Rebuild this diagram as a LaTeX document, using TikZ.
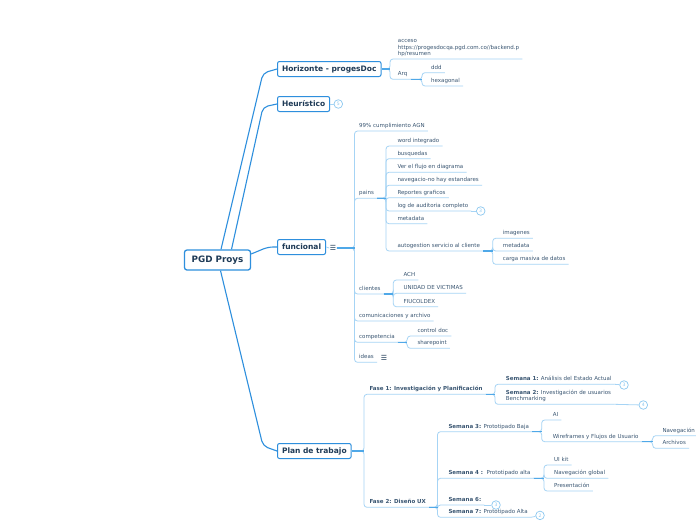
\documentclass[tikz,border=0pt]{standalone}
\usepackage{fontspec}
\setmainfont{DejaVu Sans}
\usetikzlibrary{calc}
\definecolor{mainblue}{HTML}{2E8FDD}
\definecolor{navy}{HTML}{1E3A56}
\definecolor{leaftxt}{HTML}{3A5672}
\definecolor{lineblue}{HTML}{A6D4F5}
\definecolor{stubblue}{HTML}{4FA8E8}
\definecolor{badgeblue}{HTML}{8CC8F0}
\tikzset{
 rootbox/.style={draw=mainblue, line width=1.3pt, rounded corners=2.5pt, fill=white, text=navy, font=\fontsize{8.8}{10}\selectfont\bfseries, minimum width=66pt, minimum height=20pt, inner sep=0pt},
 topbox/.style={draw=mainblue, line width=1pt, rounded corners=2pt, fill=white, text=navy, font=\fontsize{7.5}{8.5}\selectfont\bfseries, minimum height=15pt, inner xsep=4.5pt, anchor=west},
 leaf/.style={anchor=south west, inner xsep=3pt, inner ysep=2pt, text height=3.9pt, text depth=1.2pt, text=leaftxt, font=\fontsize{5.5}{6.6}\selectfont, align=left},
 mainline/.style={draw=mainblue, line width=1.1pt, rounded corners=5pt},
 uline/.style={draw=lineblue, line width=0.8pt, rounded corners=3pt},
 stub/.style={draw=stubblue, line width=1.1pt},
 badge/.style={circle, draw=badgeblue, line width=0.7pt, fill=white, minimum size=8.6pt, inner sep=0pt, text=badgeblue, font=\fontsize{4.6}{4.6}\selectfont},
 menu/.style={text=navy, font=\fontsize{7}{7}\selectfont, inner sep=0.5pt},
}
\newcommand\mmlink[3]{\draw[uline] (#1) -| (#2 |- #3.south west) -- (#3.south east);}
\newcommand\mmstub[2]{\draw[stub] (#1) -- (#1 -| #2);}
\begin{document}
\begin{tikzpicture}[x=1pt,y=-1pt]
\fill[white] (0,0) rectangle (696,520);
\useasboundingbox (0,0) rectangle (696,520);
% bracket x positions
\coordinate (bH) at (390,0);
\coordinate (bA) at (422,0);
\coordinate (bF) at (354.5,0);
\coordinate (bPa) at (386,0);
\coordinate (bAu) at (492.7,0);
\coordinate (bC) at (393.3,0);
\coordinate (bCo) at (407.3,0);
\coordinate (bPl) at (364,0);
\coordinate (bF1) at (495,0);
\coordinate (bF2) at (437.5,0);
\coordinate (bS3) at (541.7,0);
\coordinate (bW) at (652.7,0);
\coordinate (bS4) at (544,0);
% main nodes
\node[rootbox] (root) at (217.5,260) {PGD Proys};
\node[topbox] (hor) at (277,69) {Horizonte - progesDoc};
\node[topbox] (heu) at (277,104) {Heurístico};
\node[topbox] (fun) at (277,247) {funcional};
\node[topbox] (plan) at (277,451) {Plan de trabajo};
\node[badge] (heu5) at (338.3,104) {5};
\node[menu] (fmenu) at (333,248) {☰};
% Horizonte
\node[leaf] (acc) at (394.7,59) {acceso\\https://progesdocqa.pgd.com.co//backend.p\\hp/resumen};
\node[leaf] (arq) at (394.7,79.3) {Arq};
\node[leaf] (ddd) at (428,72.7) {ddd};
\node[leaf] (hex) at (428,86) {hexagonal};
% funcional
\node[leaf] (agn) at (356,131) {99\% cumplimiento AGN};
\node[leaf] (pains) at (356,198.3) {pains};
\node[leaf] (cli) at (356,294) {clientes};
\node[leaf] (com) at (356,321) {comunicaciones y archivo};
\node[leaf] (comp) at (356,342.3) {competencia};
\node[leaf] (ideas) at (356,362.3) {ideas};
\node[menu] (imenu) at (384,358) {☰};
\node[leaf] (word) at (394.3,146) {word integrado};
\node[leaf] (busq) at (394.3,158.7) {busquedas};
\node[leaf] (flujo) at (394.3,172.3) {Ver el flujo en diagrama};
\node[leaf] (nav) at (394.3,185.3) {navegacio-no hay estandares};
\node[leaf] (rep) at (394.3,197.7) {Reportes graficos};
\node[leaf] (log) at (394.3,211) {log de auditoria completo};
\node[badge] (log3) at (480.7,211) {3};
\node[leaf] (meta) at (394.3,223.7) {metadata};
\node[leaf] (auto) at (394.3,251) {autogestion servicio al cliente};
\node[leaf] (img) at (499.7,238.3) {imagenes};
\node[leaf] (meta2) at (499.7,251) {metadata};
\node[leaf] (carga) at (499.7,264.3) {carga masiva de datos};
\node[leaf] (ach) at (400.3,280) {ACH};
\node[leaf] (uv) at (400.3,293.3) {UNIDAD DE VICTIMAS};
\node[leaf] (fiu) at (400.3,306.7) {FIUCOLDEX};
\node[leaf] (ctrl) at (414.3,336) {control doc};
\node[leaf] (sp) at (414.3,348.3) {sharepoint};
% Plan de trabajo
\node[leaf] (f1) at (366.3,394.3) {\textbf{Fase 1: Investigación y Planificación}};
\node[leaf] (f2) at (366.3,507.3) {\textbf{Fase 2: Diseño UX}};
\node[leaf] (s1) at (502.7,384.3) {\textbf{Semana 1:} Análisis del Estado Actual};
\node[badge] (s1b) at (624,385) {3};
\node[leaf] (s2) at (502.7,404.3) {\textbf{Semana 2:} Investigación de usuarios\\Benchmarking};
\node[badge] (s2b) at (643.3,405) {4};
\node[leaf] (s3) at (445.3,431.7) {\textbf{Semana 3:} Prototipado Baja};
\node[leaf] (s4) at (445.3,478.3) {\textbf{Semana 4 :}\ \ Prototipado alta};
\node[leaf] (s6) at (445.3,505) {\textbf{Semana 6:}};
\node[badge] (s6b) at (496,505) {3};
\node[leaf] (s7) at (445.3,517.3) {\textbf{Semana 7:} Prototipado Alta};
\node[badge] (s7b) at (540,515.4) {2};
\node[leaf] (ai) at (549.7,420) {AI};
\node[leaf] (wf) at (549.7,441.7) {Wireframes y Flujos de Usuario};
\node[leaf] (navg) at (659.3,435.7) {Navegación};
\node[leaf] (arch) at (659.3,448.3) {Archivos};
\node[leaf] (ui) at (551,465) {UI kit};
\node[leaf] (ng) at (551,478.3) {Navegación global};
\node[leaf] (pres) at (551,491) {Presentación};
% root connectors
\draw[mainline] ([xshift=3.5pt]root.north) -- ($(hor.west)+(-14,4)$) -- (hor.west);
\draw[mainline] ([xshift=14pt]root.north) -- ($(heu.west)+(-14,3)$) -- (heu.west);
\draw[mainline] ([yshift=6pt]root.east) -- ($(fun.west)+(-9,0)$) -- (fun.west);
\draw[mainline] ([xshift=3pt]root.south) -- ($(plan.west)+(-14,-5)$) -- (plan.west);
% small connectors
\draw[uline] (heu.east) -- (heu5);
\draw[uline] (fun.east) -- (fmenu.west);
\mmlink{hor.east}{bH}{acc}
\mmlink{hor.east}{bH}{arq}
\mmlink{arq.south east}{bA}{ddd}
\mmlink{arq.south east}{bA}{hex}
\foreach \c in {agn,pains,cli,com,comp,ideas} {\mmlink{fmenu.east}{bF}{\c}}
\foreach \c in {word,busq,flujo,nav,rep,log,meta,auto} {\mmlink{pains.south east}{bPa}{\c}}
\draw[uline] (log.south east) -- (log3);
\foreach \c in {img,meta2,carga} {\mmlink{auto.south east}{bAu}{\c}}
\foreach \c in {ach,uv,fiu} {\mmlink{cli.south east}{bC}{\c}}
\foreach \c in {ctrl,sp} {\mmlink{comp.south east}{bCo}{\c}}
\mmlink{plan.east}{bPl}{f1}
\mmlink{plan.east}{bPl}{f2}
\mmlink{f1.south east}{bF1}{s1}
\mmlink{f1.south east}{bF1}{s2}
\draw[uline] (s1.south east) -- (s1b);
\draw[uline] (s2.south east) -- (s2b);
\foreach \c in {s3,s4,s6,s7} {\mmlink{f2.south east}{bF2}{\c}}
\draw[uline] (s6.south east) -- (s6b);
\draw[uline] (s7.south east) -- (s7b);
\foreach \c in {ai,wf} {\mmlink{s3.south east}{bS3}{\c}}
\foreach \c in {navg,arch} {\mmlink{wf.south east}{bW}{\c}}
\foreach \c in {ui,ng,pres} {\mmlink{s4.south east}{bS4}{\c}}
% stubs near parents
\mmstub{hor.east}{bH}
\mmstub{arq.south east}{bA}
\mmstub{fmenu.east}{bF}
\mmstub{pains.south east}{bPa}
\mmstub{auto.south east}{bAu}
\mmstub{cli.south east}{bC}
\mmstub{comp.south east}{bCo}
\mmstub{plan.east}{bPl}
\mmstub{f1.south east}{bF1}
\mmstub{f2.south east}{bF2}
\mmstub{s3.south east}{bS3}
\mmstub{wf.south east}{bW}
\mmstub{s4.south east}{bS4}
\end{tikzpicture}
\end{document}
